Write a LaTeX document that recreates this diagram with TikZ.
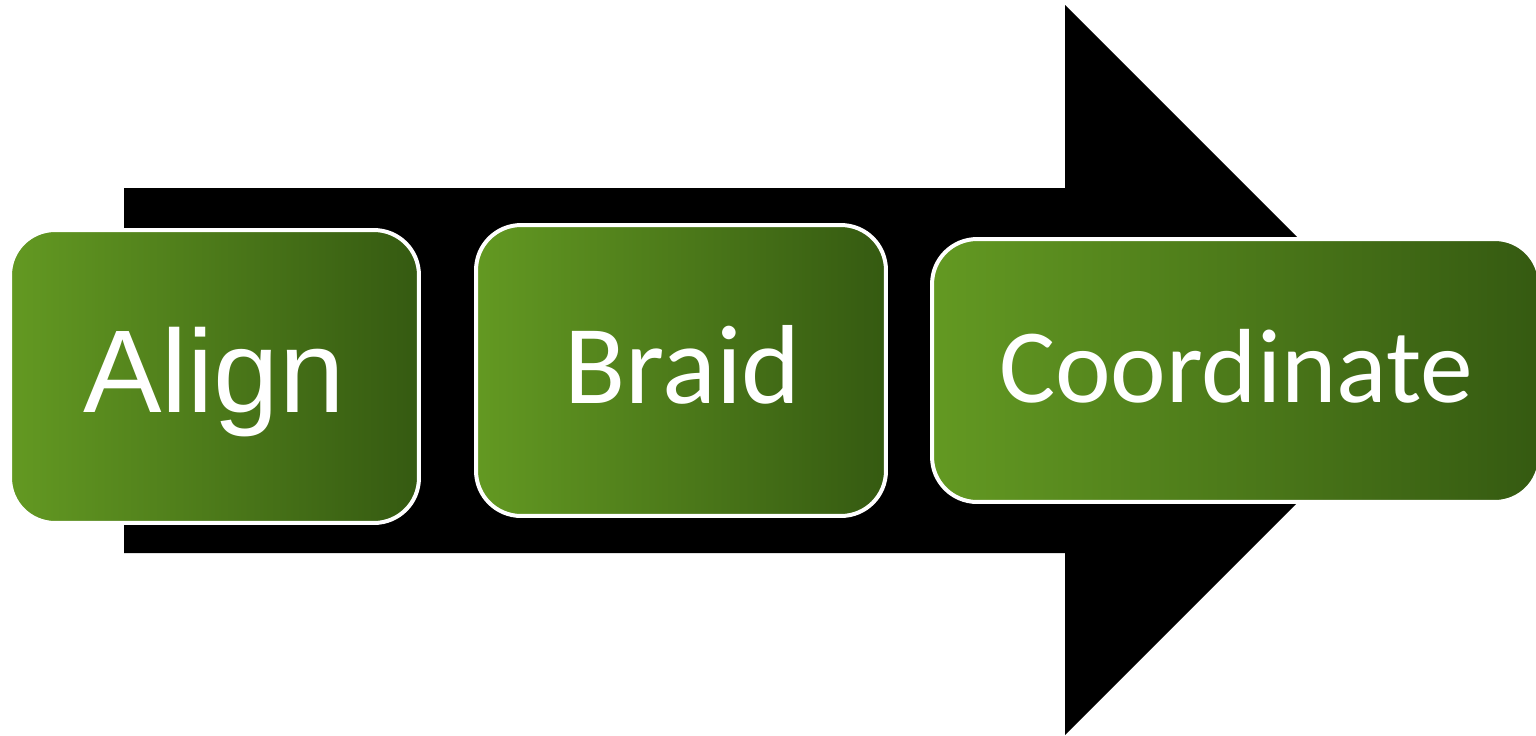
\documentclass[tikz,border=0pt]{standalone}
\usepackage{fontspec}
\setmainfont{Carlito}
\newfontfamily\arialfont{Liberation Sans}
\usetikzlibrary{positioning}
\definecolor{leafgreen}{RGB}{99,153,34}
\definecolor{darkleaf}{RGB}{53,90,17}
\tikzset{
  stepbox/.style={draw=white, line width=0.08cm, rounded corners=0.9cm,
    left color=leafgreen, right color=darkleaf, text=white,
    inner sep=0pt, text depth=0pt},
}
\begin{document}
\begin{tikzpicture}[x=0.02cm,y=-0.02cm]
\useasboundingbox (0,0) rectangle (1536,735);

% Drawing the big arrow
\fill [black] (124,188) -- (1065,188) -- (1065,5) -- (1430,370) -- (1065,735) -- (1065,553) -- (124,553) -- cycle;%

% Box Align
\node [stepbox, minimum width=8.18cm, minimum height=5.86cm, text height=1.42cm, font=\arialfont] (align) at (214.5,376.5) {\fontsize{67}{72}\selectfont\hspace*{-0.02cm}Align};%

% Box Braid
\node [stepbox, minimum width=8.2cm, minimum height=5.82cm, text height=1.3cm] (braid) at (681,370.5) {\fontsize{64}{69}\selectfont\hspace*{0.06cm}Braid};%

% Box Coordinate
\node [stepbox, minimum width=12.16cm, minimum height=5.26cm, text height=1.26cm] (coord) at (1236,370.5) {\fontsize{60}{65}\selectfont Coordinate};%
\end{tikzpicture}
\end{document}
